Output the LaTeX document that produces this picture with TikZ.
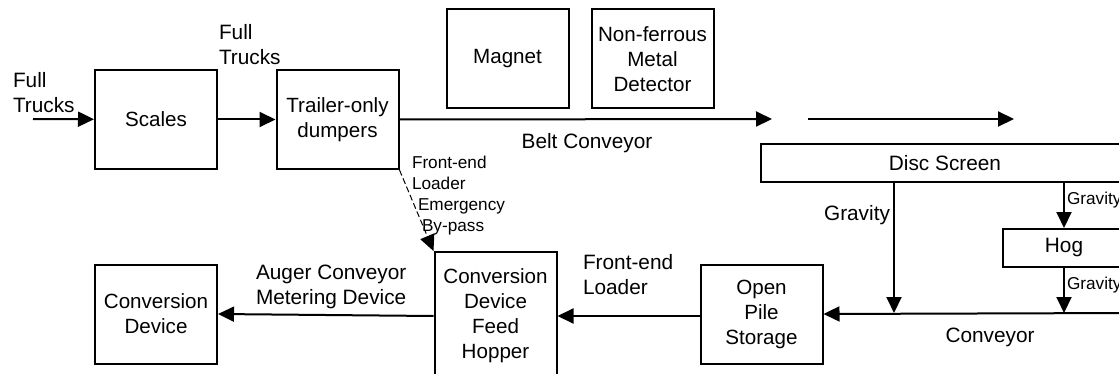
\documentclass[tikz,border=0pt]{standalone}
\usepackage{fontspec}
\setmainfont{Liberation Sans}
\usetikzlibrary{arrows.meta}

\begin{document}
\begin{tikzpicture}[
      x=0.5pt, y=-0.5pt, line width=1pt,
      flow/.style={-{Triangle[length=8pt,width=7.5pt]}},
      unit/.style={draw, align=center, minimum width=61pt, minimum height=49.5pt,
                   inner sep=0pt, font=\fontsize{10.3}{12.5}\selectfont},
      strip/.style={draw, minimum height=19pt, inner sep=0pt,
                    font=\fontsize{10.4}{12.5}\selectfont},
      lbl/.style={align=left, inner sep=0pt, font=\fontsize{10.4}{12.5}\selectfont},
      tiny/.style={align=left, inner sep=0pt, font=\fontsize{8.6}{10.5}\selectfont},
    ]
    \useasboundingbox (0,0) rectangle (1119,374);
    \clip (0,0) rectangle (1119,374);

    % top row
    \node[unit] (scales) at (156,119.5) {Scales};
    \node[unit] (dumper) at (337.5,119.5) {Trailer-only\\dumpers};
    \node[unit] (magnet) at (507.5,59) {Magnet};
    \node[unit] (detector) at (652.5,59) {Non-ferrous\\Metal\\Detector};
    \node[strip, minimum width=184pt] (screen) at (945,163) {Disc Screen};
    \node[strip, minimum width=61pt] (hog) at (1064,248) {Hog};

    % bottom row
    \node[unit] (pile) at (761.5,314) {Open\\Pile\\Storage};
    \node[unit, minimum height=64pt] (hopper) at (495.5,316) {Conversion\\Device\\Feed\\Hopper};
    \node[unit] (convdev) at (156,314) {Conversion\\Device};

    \coordinate (trucksin) at (33,119);
    \coordinate (beltend) at (772,119);
    \coordinate (beltgo) at (808,119);
    \coordinate (beltout) at (1014,119);
    \coordinate (drop) at (894,313);
    \coordinate (convin) at (1130,313);

    \draw[flow] (trucksin) -- (scales);
    \draw[flow] (scales) -- (dumper);
    \draw[flow] (dumper.east) -- (beltend);
    \draw[flow] (beltgo) -- (beltout);
    \draw[flow] (screen.south -| drop) -- (drop);
    \draw[flow] (screen.south -| hog) -- (hog.north);
    \draw[flow] (hog.south) -- (hog.south |- convin);
    \draw[flow] (convin) -- (pile.east);
    \draw[flow] (pile.west |- hopper.east) -- (hopper.east);
    \draw[flow] (hopper.west) -- (convdev.east);
    \draw[flow, line width=0.5pt, dash pattern=on 3pt off 1.5pt]
      (dumper.south east) -- (hopper.north west);

    % labels
    \node[lbl, anchor=west] (lfull) at (12,93) {Full\\Trucks};
    \node[lbl, anchor=west] (lfull2) at (218,45) {Full\\Trucks};
    \node[lbl] (lbelt) at (587,143) {Belt Conveyor};
    \node[tiny, anchor=west] (lbypass) at (411,196)
      {Front-end\\Loader\\\hspace*{3pt}Emergency\\\hspace*{5pt}By-pass};
    \node[lbl] (lgrav) at (857,215) {Gravity};
    \node[tiny, anchor=west] (lgrav2) at (1066,200) {Gravity};
    \node[tiny, anchor=west] (lgrav3) at (1066,285) {Gravity};
    \node[lbl] (lconv) at (990,337) {Conveyor};
    \node[lbl, anchor=west] (lloader) at (582,275) {Front-end\\Loader};
    \node[lbl, anchor=west] (lauger) at (255,287) {Auger Conveyor\\Metering Device};
\end{tikzpicture}
\end{document}
